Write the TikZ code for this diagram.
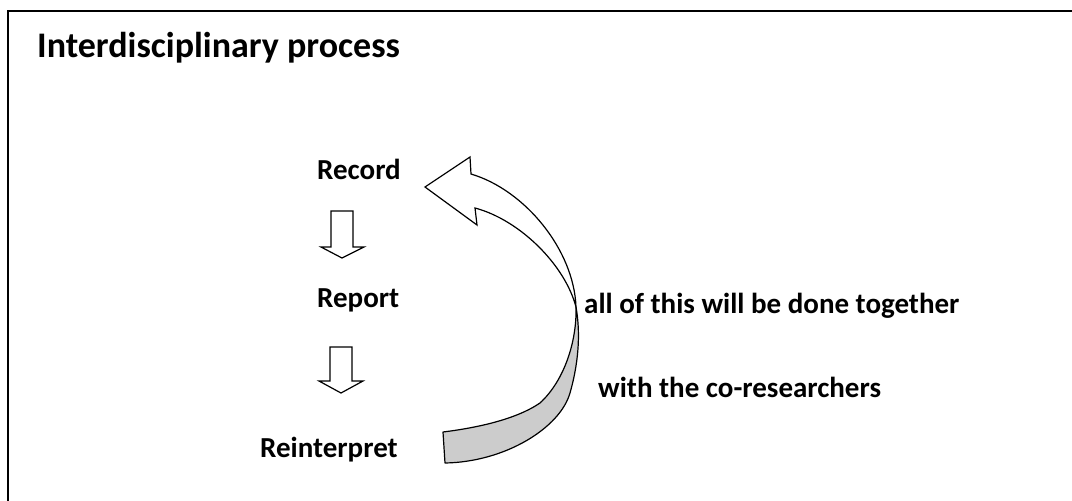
\documentclass[tikz,border=0pt]{standalone}
\usepackage{fontspec}
\setmainfont{Carlito}
\begin{document}
\begin{tikzpicture}[x=1pt,y=-1pt,
  label/.style={inner sep=0pt,anchor=base west,font=\fontsize{29}{34}\selectfont\bfseries},
  titletext/.style={inner sep=0pt,anchor=base west,font=\fontsize{36}{42}\selectfont\bfseries},
  blockarrow/.style={draw=black,fill=white,line width=1.2pt,line join=miter},
  ribbonback/.style={draw=black,fill=gray!40,line width=1.2pt,line join=round}]
\useasboundingbox (0,0) rectangle (1072,501);

% frame around the slide content
\draw[line width=2pt] (8,560) -- (8,11) -- (1100,11);

\node[titletext] (title) at (37,57) {Interdisciplinary process};

\node[label] (record) at (317,179) {Record};
\node[label] (report) at (317,307) {Report};
\node[label] (reinterpret) at (260,457) {Reinterpret};
\node[label] (together) at (584,313) {all of this will be done together};
\node[label] (coresearchers) at (598,397) {with the co-researchers};

% down block arrows between the steps
\draw[blockarrow] (331,211) -- (353,211) -- (353,247) -- (364,247) -- (342,258)
  -- (321,247) -- (331,247) -- cycle;
\draw[blockarrow] (330,347) -- (352,347) -- (352,381) -- (363,381) -- (341,393)
  -- (319,381) -- (330,381) -- cycle;

% curved return arrow: shaded underside of the ribbon
\coordinate (twist) at (576,307);
\draw[ribbonback] (twist) .. controls (581,335) and (578,365) .. (570,393)
  .. controls (560,428) and (505,462) .. (445,463)
  -- (443,432)
  .. controls (475,428) and (515,420) .. (540,403)
  .. controls (565,380) and (577,340) .. (twist) -- cycle;

% front face of the ribbon with its arrow head
\draw[blockarrow] (twist) .. controls (574,250) and (525,190) .. (471,174)
  -- (470,157) -- (425,187) -- (477,225) -- (475,208)
  .. controls (520,220) and (565,265) .. (twist) -- cycle;
\end{tikzpicture}
\end{document}
